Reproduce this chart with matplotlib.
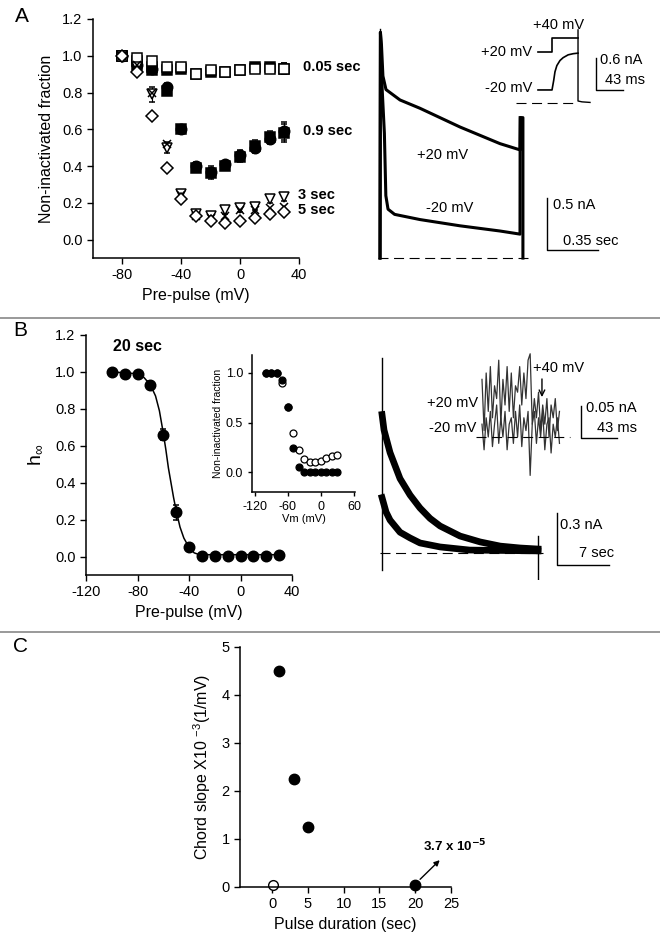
import numpy as np
import matplotlib
matplotlib.use('Agg')
import matplotlib.pyplot as plt
from matplotlib.lines import Line2D

plt.rcParams['font.family'] = ['Liberation Sans', 'DejaVu Sans']
plt.rcParams['mathtext.default'] = 'regular'
plt.rcParams['axes.unicode_minus'] = False
plt.rcParams['xtick.direction'] = 'out'
plt.rcParams['ytick.direction'] = 'out'

W, H = 660, 948

# ---- panel A data (pre-pulse voltage, non-inactivated fraction)
va = [-80, -70, -60, -50, -40, -30, -20, -10, 0, 10, 20, 30]
sq_open = [1.00, 0.99, 0.97, 0.94, 0.94, 0.90, 0.92, 0.91, 0.92, 0.93, 0.93, 0.93]
sq_fill = [1.00, 0.97, 0.94, 0.92, 0.93, 0.90, 0.91, 0.91, 0.92, 0.94, 0.94, 0.93]
sq_err = [0.01, 0.02, 0.02, 0.02, 0.02, 0.01, 0.02, 0.02, 0.01, 0.02, 0.02, 0.03]
circ = [1.00, 0.95, 0.93, 0.83, 0.60, 0.40, 0.37, 0.41, 0.46, 0.50, 0.55, 0.59]
circ_sq = [1.00, 0.95, 0.92, 0.81, 0.60, 0.39, 0.36, 0.40, 0.45, 0.51, 0.56, 0.58]
circ_err = [0.01, 0.02, 0.02, 0.02, 0.01, 0.02, 0.03, 0.02, 0.03, 0.03, 0.03, 0.05]
tri = [1.00, 0.94, 0.79, 0.50, 0.25, 0.14, 0.13, 0.16, 0.17, 0.18, 0.22, 0.23]
tri_err = [0.01, 0.02, 0.04, 0.03, 0.02, 0.02, 0.02, 0.02, 0.02, 0.02, 0.02, 0.02]
cross = [1.00, 0.95, 0.80, 0.52, 0.24, 0.13, 0.12, 0.13, 0.16, 0.16, 0.17, 0.18]
dia = [1.00, 0.91, 0.67, 0.39, 0.22, 0.13, 0.10, 0.09, 0.10, 0.12, 0.14, 0.15]

# panel A current traces (sec, nA)
p20_t = [0, 0.003, 0.010, 0.020, 0.041, 0.137, 0.274, 0.411, 0.548, 0.685, 0.822, 0.959, 0.962, 0.979, 0.979]
p20_i = [0, 2.17, 2.05, 1.75, 1.62, 1.52, 1.44, 1.35, 1.26, 1.18, 1.10, 1.04, 1.35, 1.35, 0.0]
m20_t = [0, 0.003, 0.015, 0.030, 0.040, 0.055, 0.100, 0.274, 0.548, 0.822, 0.959, 0.960]
m20_i = [0, 2.17, 1.62, 1.20, 0.60, 0.47, 0.42, 0.37, 0.31, 0.26, 0.23, 1.35]
# panel A inset traces (ms, nA)
ia_p20_t = [0, 22.3, 22.3, 63.7]
ia_p20_i = [0.90, 0.90, 1.15, 1.15]
ia_m20_t = [0, 22.3, 25, 27, 30, 35, 40, 48, 56, 63.7]
ia_m20_i = [0.23, 0.23, 0.40, 0.55, 0.66, 0.75, 0.80, 0.85, 0.87, 0.88]
ia_end_t = [63.7, 63.7, 63.7, 70, 82.8]
ia_end_i = [1.29, 0.035, 0.035, 0.02, 0.01]

# ---- panel B data
vb = [-100, -90, -80, -70, -60, -50, -40, -30, -20, -10, 0, 10, 20, 30]
hb = [1.0, 0.99, 0.99, 0.93, 0.66, 0.24, 0.05, 0.005, 0.005, 0.005, 0.005, 0.005, 0.005, 0.01]
hb_err = [0.0, 0.0, 0.0, 0.02, 0.03, 0.04, 0.01, 0.01, 0, 0, 0, 0, 0, 0]
fit_v = [-100, -80, -75, -70, -66, -63, -60, -58, -56, -54, -52, -50, -47, -44, -40, -36, -32, 30]
fit_h = [1.0, 0.99, 0.97, 0.93, 0.87, 0.79, 0.67, 0.58, 0.48, 0.40, 0.32, 0.25, 0.16, 0.10, 0.05, 0.02, 0.01, 0.01]
inset_fill = [1.0, 1.0, 1.0, 0.93, 0.66, 0.24, 0.05, 0.0, 0.0, 0.0, 0.0, 0.0, 0.0, 0.0]
inset_open = [1.0, 1.0, 1.0, 0.90, 0.66, 0.39, 0.22, 0.13, 0.10, 0.10, 0.11, 0.14, 0.16, 0.17]

# panel B traces (sec, nA)
b_up_t = [0, 0.27, 1.08, 2.42, 3.77, 5.11, 6.46, 7.81, 10.5, 13.2, 15.9, 18.6, 21.0]
b_up_i = [0.80, 0.71, 0.58, 0.43, 0.335, 0.26, 0.20, 0.156, 0.098, 0.064, 0.040, 0.029, 0.023]
b_lo_t = [0, 0.54, 1.08, 2.42, 3.77, 5.11, 7.81, 11.8, 21.0]
b_lo_i = [0.32, 0.237, 0.19, 0.12, 0.087, 0.058, 0.035, 0.017, 0.012]
# panel B inset traces (ms, nA)
ib_t = [0, 2.5, 5, 7.5, 10, 12.5, 15, 17.5, 20, 22.5, 25, 27.5, 30, 32.5, 35, 37.5, 40, 42.5, 45,
        47.5, 50, 52.5, 55, 57.5, 60, 62.5, 65, 67.5, 70, 72.5, 75, 77.5, 80, 82.5, 85, 87.5, 90, 92.5]
ib_p20 = [0.09, 0.01, 0.10, 0.04, 0.11, 0.03, 0.08, 0.06, 0.12, 0.02, 0.09, 0.05, 0.11, 0.04, 0.10,
          0.03, 0.08, 0.07, 0.11, 0.05, 0.10, 0.06, 0.12, 0.13, 0.02, 0.06, 0.03, 0.07, 0.01, 0.05,
          0.02, 0.06, 0.00, 0.05, 0.03, 0.06, 0.01, 0.04]
ib_m20 = [0.02, -0.02, 0.03, 0.0, 0.04, -0.015, 0.02, 0.05, -0.01, 0.03, 0.0, 0.04, -0.02, 0.02,
          0.03, -0.01, 0.04, 0.0, 0.05, -0.015, 0.03, 0.01, 0.04, -0.06, 0.02, 0.04, -0.01, 0.03,
          0.0, 0.04, -0.02, 0.02, 0.03, -0.025, 0.02, 0.0, 0.03, -0.01]

# ---- panel C data
dur_fill = [0.9, 3, 5, 20]
slope_fill = [4.5, 2.25, 1.25, 0.04]
dur_open = [0.05]
slope_open = [0.04]


def px_axes(fig, l, t, r, b):
    return fig.add_axes([l / W, 1 - b / H, (r - l) / W, (b - t) / H])


def style(ax, fs=10.5):
    ax.spines['top'].set_visible(False)
    ax.spines['right'].set_visible(False)
    ax.tick_params(labelsize=fs, length=4, width=1)
    for s in ('left', 'bottom'):
        ax.spines[s].set_linewidth(1.1)


fig = plt.figure(figsize=(W / 100, H / 100), dpi=100)

eb = dict(linestyle='none', color='black', capsize=2.5, elinewidth=0.8, capthick=0.8,
          markeredgewidth=1.1, clip_on=False)

# ================= Panel A =================
axA = px_axes(fig, 93, 19, 299, 258)
style(axA)
axA.errorbar(va, sq_fill, yerr=sq_err, fmt='s', ms=6.5, mfc='black', mec='black', **eb)
axA.errorbar(va, circ_sq, yerr=circ_err, fmt='s', ms=6.5, mfc='black', mec='black', **eb)
axA.errorbar(va, circ, yerr=circ_err, fmt='o', ms=7.5, mfc='black', mec='black', **eb)
axA.errorbar(va, sq_open, yerr=sq_err, fmt='s', ms=6.5, mfc='white', mec='black', **eb)
axA.errorbar(va, tri, yerr=tri_err, fmt='v', ms=7.5, mfc='white', mec='black', **eb)
axA.errorbar(va, cross, fmt='x', ms=6, mfc='black', mec='black', **eb)
axA.errorbar(va, dia, fmt='D', ms=6, mfc='white', mec='black', **eb)
axA.set_xlim(-100, 40)
axA.set_ylim(-0.1, 1.2)
axA.set_xticks([-80, -40, 0, 40])
axA.set_yticks([0, 0.2, 0.4, 0.6, 0.8, 1.0, 1.2])
axA.set_yticklabels(['0.0', '0.2', '0.4', '0.6', '0.8', '1.0', '1.2'])
axA.set_xlabel('Pre-pulse (mV)', fontsize=11.5, labelpad=4)
axA.set_ylabel('Non-inactivated fraction', fontsize=11.5, labelpad=6)
for lab, y, x in [('0.05 sec', 0.94, 42.7), ('0.9 sec', 0.59, 42.7),
                  ('3 sec', 0.245, 39.5), ('5 sec', 0.16, 39.5)]:
    axA.text(x, y, lab, fontsize=10.5, fontweight='bold', va='center', ha='left', clip_on=False)

# A traces
axT = px_axes(fig, 370, 15, 640, 275)
axT.set_xlim(-0.0685, 1.781)
axT.set_ylim(-0.163, 2.337)
axT.axis('off')
axT.plot(p20_t, p20_i, color='black', lw=2.2, solid_joinstyle='round')
axT.plot(m20_t, m20_i, color='black', lw=2.2, solid_joinstyle='round')
axT.plot([0, 0], [0, 2.2], color='black', lw=1.0)
axT.plot([-0.014, 1.03], [0, 0], color='black', lw=0.8, dashes=[9, 5])
axT.text(0.43, 0.99, '+20 mV', fontsize=10.5, ha='center', va='center')
axT.text(0.48, 0.48, '-20 mV', fontsize=10.5, ha='center', va='center')
axT.plot([1.144, 1.144, 1.493], [0.577, 0.077, 0.077], color='black', lw=1.0)
axT.text(1.185, 0.51, '0.5 nA', fontsize=10.5, va='center')
axT.text(1.253, 0.163, '0.35 sec', fontsize=10.5, va='center')

# A inset traces
axI = px_axes(fig, 470, 15, 640, 115)
axI.set_xlim(-108.3, 162.4)
axI.set_ylim(-0.212, 1.553)
axI.axis('off')
axI.plot(ia_p20_t, ia_p20_i, color='black', lw=1.2)
axI.plot(ia_m20_t, ia_m20_i, color='black', lw=1.2)
axI.plot(ia_end_t, ia_end_i, color='black', lw=1.0)
axI.plot([-35, 63.7], [0, 0], color='black', lw=0.8, dashes=[9, 5])
axI.text(-8, 1.38, '+40 mV', fontsize=10.5, va='center')
axI.text(-9.6, 0.90, '+20 mV', fontsize=10.5, va='center', ha='right')
axI.text(-9.6, 0.26, '-20 mV', fontsize=10.5, va='center', ha='right')
axI.plot([92.4, 92.4, 135.4], [0.79, 0.23, 0.23], color='black', lw=1.0)
axI.text(98.7, 0.76, '0.6 nA', fontsize=10.5, va='center')
axI.text(106.7, 0.41, '43 ms', fontsize=10.5, va='center')

# ================= Panel B =================
axB = px_axes(fig, 86, 335, 292, 575)
style(axB)
axB.plot(fit_v, fit_h, color='black', lw=1.1)
axB.errorbar(vb, hb, yerr=hb_err, fmt='o', ms=7.5, mfc='black', mec='black', **eb)
axB.set_xlim(-120, 40)
axB.set_ylim(-0.1, 1.2)
axB.set_xticks([-120, -80, -40, 0, 40])
axB.set_yticks([0, 0.2, 0.4, 0.6, 0.8, 1.0, 1.2])
axB.set_yticklabels(['0.0', '0.2', '0.4', '0.6', '0.8', '1.0', '1.2'])
axB.set_xlabel('Pre-pulse (mV)', fontsize=11.5, labelpad=4)
axB.set_ylabel(r'h$_\infty$', fontsize=14, labelpad=8)
axB.text(-80, 1.14, '20 sec', fontsize=11.5, fontweight='bold', ha='center', va='center')

# B inset
axBi = px_axes(fig, 252, 355, 355, 492)
style(axBi, fs=9)
axBi.tick_params(length=3)
axBi.plot(vb, inset_open, 'o', ms=5, mfc='white', mec='black', mew=0.9, clip_on=False)
axBi.plot(vb, inset_fill, 'o', ms=5, mfc='black', mec='black', mew=0.9, clip_on=False)
axBi.set_xlim(-125, 62)
axBi.set_ylim(-0.2, 1.18)
axBi.set_xticks([-120, -60, 0, 60])
axBi.set_yticks([0, 0.5, 1.0])
axBi.set_yticklabels(['0.0', '0.5', '1.0'])
axBi.set_xlabel('Vm (mV)', fontsize=8, labelpad=1)
axBi.set_ylabel('Non-inactivated fraction', fontsize=7.5, labelpad=2)

# B traces
axBt = px_axes(fig, 372, 350, 625, 580)
axBt.set_xlim(-1.35, 32.7)
axBt.set_ylim(-0.156, 1.173)
axBt.axis('off')
axBt.plot(b_up_t, b_up_i, color='black', lw=4.8, solid_joinstyle='round')
axBt.plot(b_lo_t, b_lo_i, color='black', lw=4.8, solid_joinstyle='round')
axBt.plot([0, 0], [-0.1, 1.127], color='black', lw=1.0)
axBt.plot([21.0, 21.0], [-0.15, 0.1], color='black', lw=1.0)
axBt.plot([-0.27, 21.7], [0, 0], color='black', lw=0.8, dashes=[9, 5])
axBt.plot([23.55, 23.55, 30.55], [0.231, -0.069, -0.069], color='black', lw=1.0)
axBt.text(23.9, 0.16, '0.3 nA', fontsize=10.5, va='center')
axBt.text(26.5, 0.0, '7 sec', fontsize=10.5, va='center')

# B inset traces
axBit = px_axes(fig, 420, 350, 630, 490)
axBit.set_xlim(-74, 176.7)
axBit.set_ylim(-0.0828, 0.1359)
axBit.axis('off')
axBit.plot(ib_t, ib_p20, color='#333333', lw=0.9)
axBit.plot(ib_t, ib_m20, color='#333333', lw=0.9)
axBit.plot([-7, 105], [0, 0], color='black', lw=0.8, dashes=[9, 5])
axBit.text(-4.8, 0.053, '+20 mV', fontsize=10.5, va='center', ha='right')
axBit.text(-7, 0.014, '-20 mV', fontsize=10.5, va='center', ha='right')
axBit.text(61, 0.108, '+40 mV', fontsize=10.5, va='center')
axBit.annotate('', xy=(71.6, 0.058), xytext=(71.6, 0.095),
               arrowprops=dict(arrowstyle='->', color='black', lw=1.0))
axBit.plot([118.2, 118.2, 161.2], [0.048, -0.0016, -0.0016], color='black', lw=1.0)
axBit.text(124, 0.045, '0.05 nA', fontsize=10.5, va='center')
axBit.text(137, 0.014, '43 ms', fontsize=10.5, va='center')

# ================= Panel C =================
axC = px_axes(fig, 240, 647, 451, 887)
style(axC)
axC.plot(dur_open, slope_open, 'o', ms=7, mfc='white', mec='black', mew=1.0, clip_on=False)
axC.plot(dur_fill, slope_fill, 'o', ms=7.5, mfc='black', mec='black', clip_on=False)
axC.set_xlim(-4.5, 25)
axC.set_ylim(0, 5)
axC.set_xticks([0, 5, 10, 15, 20, 25])
axC.set_yticks([0, 1, 2, 3, 4, 5])
axC.set_xlabel('Pulse duration (sec)', fontsize=11.5, labelpad=4)
axC.set_ylabel(r'Chord slope X10 $^{-3}$(1/mV)', fontsize=11.5, labelpad=6)
axC.annotate('', xy=(23.7, 0.6), xytext=(20.4, 0.12),
             arrowprops=dict(arrowstyle='-|>', color='black', lw=1.0, mutation_scale=8))
axC.text(21.1, 0.85, r'3.7 x 10$^{\mathbf{-5}}$', fontsize=9.5, fontweight='bold',
         va='center', ha='left', clip_on=False)

# separators and panel letters
for y in (318, 632):
    fig.add_artist(Line2D([0, 1], [1 - y / H, 1 - y / H], color='#888888', lw=1.2))
for lab, x, y in [('A', 22, 16), ('B', 20, 330), ('C', 20, 646)]:
    fig.text(x / W, 1 - y / H, lab, fontsize=15, ha='center', va='center')

fig.savefig('out.png', dpi=100)
